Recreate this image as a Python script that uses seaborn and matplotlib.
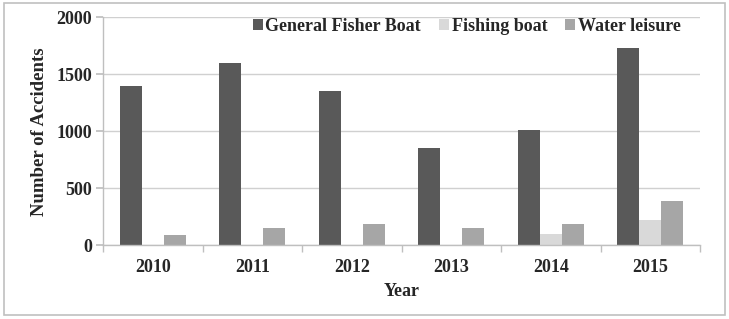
import matplotlib
matplotlib.use("Agg")
import matplotlib.pyplot as plt
import seaborn as sns
import pandas as pd
from matplotlib.patches import Rectangle

years = ["2010", "2011", "2012", "2013", "2014", "2015"]
general_fisher_boat = [1395, 1600, 1350, 850, 1010, 1730]
fishing_boat = [0, 0, 0, 0, 100, 225]
water_leisure = [90, 155, 185, 150, 185, 390]
series_names = ["General Fisher Boat", "Fishing boat", "Water leisure"]
colors = ["#595959", "#d9d9d9", "#a6a6a6"]
yticks = [0, 500, 1000, 1500, 2000]

sns.set_theme(style="white")
plt.rcParams['font.family'] = ['Liberation Serif', 'DejaVu Serif']

rows = []
for name, vals in zip(series_names, [general_fisher_boat, fishing_boat, water_leisure]):
    for y, v in zip(years, vals):
        rows.append({"Year": y, "Series": name, "Value": v})
df = pd.DataFrame(rows)

fig = plt.figure(figsize=(7.29, 3.19), dpi=100)
ax = fig.add_axes([0.1413, 0.231, 0.8190, 0.715])

sns.barplot(data=df, x="Year", y="Value", hue="Series", hue_order=series_names,
            palette=colors, width=0.66, gap=0, saturation=1, ax=ax,
            errorbar=None, edgecolor="none")

ax.set_ylim(0, 2000)
ax.set_xlim(-0.5, 5.5)
ax.set_yticks(yticks)
ax.set_yticklabels([str(t) for t in yticks], fontsize=13, fontweight="bold")
ax.set_xticks(range(len(years)))
ax.set_xticklabels(years, fontsize=13, fontweight="bold")
ax.tick_params(axis="x", which="major", length=0, pad=10)
ax.tick_params(axis="y", which="major", length=5, color="#bfbfbf", pad=3, left=True, direction="out")
ax.set_xticks([i - 0.5 for i in range(len(years) + 1)], minor=True)
ax.tick_params(axis="x", which="minor", length=5, color="#bfbfbf", bottom=True, direction="out")
ax.grid(axis="y", color="#d0d0d0", linewidth=1)
ax.set_axisbelow(True)
for s in ["top", "right"]:
    ax.spines[s].set_visible(False)
for s in ["left", "bottom"]:
    ax.spines[s].set_color("#bfbfbf")
    ax.spines[s].set_linewidth(1)

ax.set_xlabel("Year", fontsize=13, fontweight="bold", labelpad=5)
ax.set_ylabel("Number of Accidents", fontsize=13.5, fontweight="bold", labelpad=6)

leg = ax.legend(loc="upper right", bbox_to_anchor=(0.98, 1.03), ncol=3, frameon=False,
                handlelength=0.55, handleheight=0.55, handletextpad=0.15,
                columnspacing=1.0, borderaxespad=0, prop={"weight": "bold", "size": 13})

fig.patches.append(Rectangle((0.006, 0.012), 0.988, 0.978, transform=fig.transFigure,
                             fill=False, edgecolor="#c0c0c0", linewidth=1.2))

fig.savefig("out.png", dpi=100)
